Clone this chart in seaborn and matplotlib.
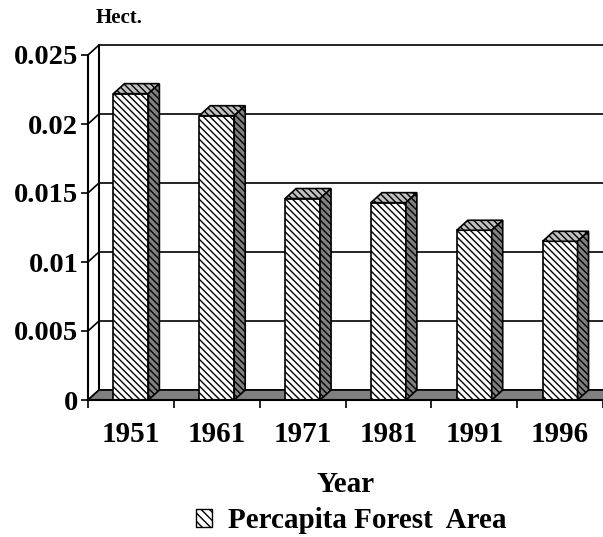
import numpy as np
import seaborn as sns
import matplotlib.pyplot as plt
from matplotlib.patches import Polygon, Patch

# data
years = ["1951", "1961", "1971", "1981", "1991", "1996"]
forest_area = [0.0222, 0.0206, 0.0146, 0.0143, 0.0123, 0.0115]
y_ticks = [0, 0.005, 0.01, 0.015, 0.02, 0.025]
y_tick_labels = ["0", "0.005", "0.01", "0.015", "0.02", "0.025"]

sns.set_style("white")
plt.rcParams['font.family'] = ['Liberation Serif', 'DejaVu Serif']
plt.rcParams['font.weight'] = 'bold'
plt.rcParams['text.color'] = 'black'
plt.rcParams['xtick.color'] = 'black'
plt.rcParams['ytick.color'] = 'black'
plt.rcParams['hatch.linewidth'] = 1.0

HATCH = '\\\\\\\\\\'

fig = plt.figure(figsize=(6.03, 5.37), dpi=100)
ax = fig.add_axes([88 / 603, 137 / 537, 515 / 603, 345 / 537])

sns.barplot(x=years, y=forest_area, color='white', saturation=1, width=0.407,
            edgecolor='black', linewidth=1.2, hatch=HATCH, ax=ax, zorder=3)
ax.set_xlim(-0.5, 5.5)
ax.set_ylim(0, 0.025)

# depth offset of the 3d look (11 px right, 10 px up) in data units
inv = ax.transData.inverted()
p0 = inv.transform(ax.transData.transform((0, 0)))
p1 = inv.transform(ax.transData.transform((0, 0)) + np.array([11, 10]))
dx, dy = p1 - p0

# back wall gridlines + diagonals to front axis
for v in y_ticks:
    ax.plot([-0.5 + dx, 5.5 + dx], [v + dy, v + dy], color='black', lw=1.2,
            clip_on=False, zorder=1)
    ax.plot([-0.5, -0.5 + dx], [v, v + dy], color='black', lw=1.2,
            clip_on=False, zorder=1)
ax.plot([-0.5 + dx, -0.5 + dx], [dy, 0.025 + dy], color='black', lw=1.5,
        clip_on=False, zorder=1)

# floor
floor = Polygon([(-0.5, 0), (5.5, 0), (5.5 + dx, dy), (-0.5 + dx, dy)],
                closed=True, facecolor='#808080', edgecolor='black', lw=1.2,
                clip_on=False, zorder=2)
ax.add_patch(floor)

# top and side faces of the columns
for bar in ax.patches[:len(years)]:
    x0 = bar.get_x()
    x1 = x0 + bar.get_width()
    h = bar.get_height()
    top = Polygon([(x0, h), (x1, h), (x1 + dx, h + dy), (x0 + dx, h + dy)],
                  closed=True, facecolor='#c0c0c0', edgecolor='black', lw=1.2,
                  hatch=HATCH, clip_on=False, zorder=3)
    side = Polygon([(x1, 0), (x1, h), (x1 + dx, h + dy), (x1 + dx, dy)],
                   closed=True, facecolor='#808080', edgecolor='black', lw=1.2,
                   hatch=HATCH, clip_on=False, zorder=3)
    ax.add_patch(top)
    ax.add_patch(side)

# axes styling
for s in ['top', 'right']:
    ax.spines[s].set_visible(False)
for s in ['left', 'bottom']:
    ax.spines[s].set_linewidth(1.5)
    ax.spines[s].set_color('black')
    ax.spines[s].set_zorder(4)

ax.set_yticks(y_ticks)
ax.set_yticklabels(y_tick_labels)
ax.tick_params(axis='y', direction='out', length=5, width=1.2, pad=2,
               labelsize=20.5, left=True)
ax.set_xticks(np.arange(len(years)))
ax.set_xticks(np.arange(-0.5, len(years)), minor=True)
ax.tick_params(axis='x', which='major', length=0, pad=15, labelsize=21)
ax.tick_params(axis='x', which='minor', direction='out', length=6, width=1.2,
               bottom=True)
ax.set_xlabel("")
ax.set_ylabel("")

fig.text(119 / 603, 1 - 18 / 537, "Hect.", ha='center', va='center',
         fontsize=15, fontweight='bold')
fig.text(346 / 603, 1 - 484 / 537, "Year", ha='center', va='center',
         fontsize=21, fontweight='bold')

handle = Patch(facecolor='white', edgecolor='black', hatch='\\\\\\\\', lw=1)
fig.legend(handles=[handle], labels=["Percapita Forest  Area"],
           loc='center', bbox_to_anchor=(351 / 603, 1 - 521 / 537),
           frameon=False, fontsize=21, handlelength=0.55, handleheight=0.55,
           handletextpad=0.55)

fig.savefig("out.png", dpi=100)
